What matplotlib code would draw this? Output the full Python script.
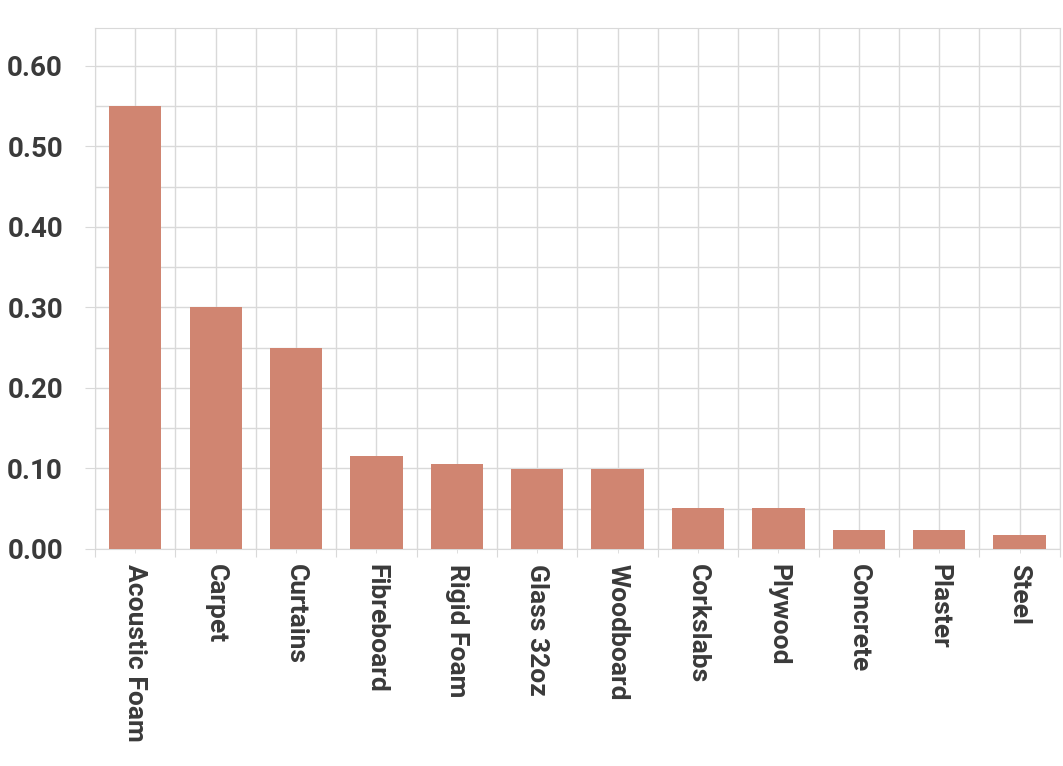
import matplotlib
matplotlib.use("Agg")
import matplotlib.pyplot as plt
import numpy as np

materials = ["Acoustic Foam", "Carpet", "Curtains", "Fibreboard", "Rigid Foam",
             "Glass 32oz", "Woodboard", "Corkslabs", "Plywood", "Concrete",
             "Plaster", "Steel"]
absorption = [0.55, 0.30, 0.25, 0.116, 0.105, 0.099, 0.099, 0.051, 0.051, 0.023, 0.023, 0.017]
yticks = [0.0, 0.1, 0.2, 0.3, 0.4, 0.5, 0.6]

bar_color = "#d08571"
grid_color = "#d9d9d9"
text_color = "#3a3a3a"

plt.rcParams['font.family'] = ['Roboto', 'DejaVu Sans']

fig = plt.figure(figsize=(10.63, 7.66), dpi=100)
ax = fig.add_axes([0.0894, 0.2833, 0.9076, 0.6801])

x = np.arange(len(materials))
ax.bar(x, absorption, width=0.65, color=bar_color, zorder=3)

ax.set_xlim(-0.5, len(materials) - 0.5)
ax.set_ylim(0, 0.647)

# y grid: major at 0.1, minor at 0.05
ax.set_yticks(yticks)
ax.set_yticklabels(["%.2f" % v for v in yticks])
ax.set_yticks(np.arange(0.05, 0.65, 0.1), minor=True)

# x grid: boundaries (major) and centres (minor)
ax.set_xticks(np.arange(-0.5, len(materials), 1.0))
ax.set_xticklabels([])
ax.set_xticks(x, minor=True)
ax.set_xticklabels(materials, minor=True, rotation=-90, fontsize=19,
                   fontweight="bold", color=text_color, va="top", ha="center")

ax.grid(True, which="both", color=grid_color, linewidth=1.0, zorder=0)

ax.tick_params(axis="y", which="major", length=7, color=grid_color,
               labelsize=20, labelcolor=text_color, pad=16)
ax.tick_params(axis="y", which="minor", length=0)
ax.tick_params(axis="x", which="major", length=6, color=grid_color)
ax.tick_params(axis="x", which="minor", length=3, color=grid_color, pad=8)
for lab in ax.get_yticklabels():
    lab.set_fontweight("bold")

for s in ax.spines.values():
    s.set_color(grid_color)

fig.savefig("out.png", dpi=100)
